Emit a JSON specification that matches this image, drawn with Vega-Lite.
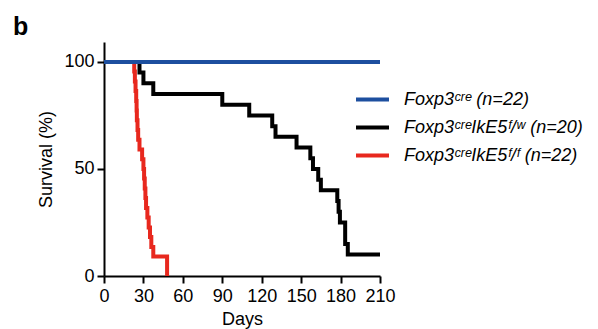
{
  "$schema": "https://vega.github.io/schema/vega-lite/v6.json",
  "autosize": "none",
  "width": 276,
  "height": 234,
  "padding": {"left": 104, "top": 42, "right": 218, "bottom": 53},
  "config": {"view": {"stroke": null}, "font": "Liberation Sans"},
  "title": {"text": "b", "anchor": "start", "frame": "group", "fontSize": 25, "fontWeight": "bold", "color": "#000", "dx": -91, "dy": 27, "offset": 4, "baseline": "bottom"},
  "data": {"values": [
    {"group": "Foxp3ᶜʳᵉIkE5ᶠ/ᶠ (n=22)", "day": 0, "survival": 100},
    {"group": "Foxp3ᶜʳᵉIkE5ᶠ/ᶠ (n=22)", "day": 23, "survival": 95.5},
    {"group": "Foxp3ᶜʳᵉIkE5ᶠ/ᶠ (n=22)", "day": 23.5, "survival": 90.9},
    {"group": "Foxp3ᶜʳᵉIkE5ᶠ/ᶠ (n=22)", "day": 24, "survival": 86.4},
    {"group": "Foxp3ᶜʳᵉIkE5ᶠ/ᶠ (n=22)", "day": 24.5, "survival": 81.8},
    {"group": "Foxp3ᶜʳᵉIkE5ᶠ/ᶠ (n=22)", "day": 24.8, "survival": 77.3},
    {"group": "Foxp3ᶜʳᵉIkE5ᶠ/ᶠ (n=22)", "day": 25, "survival": 72.7},
    {"group": "Foxp3ᶜʳᵉIkE5ᶠ/ᶠ (n=22)", "day": 25.5, "survival": 68.2},
    {"group": "Foxp3ᶜʳᵉIkE5ᶠ/ᶠ (n=22)", "day": 26, "survival": 63.6},
    {"group": "Foxp3ᶜʳᵉIkE5ᶠ/ᶠ (n=22)", "day": 27, "survival": 59.1},
    {"group": "Foxp3ᶜʳᵉIkE5ᶠ/ᶠ (n=22)", "day": 29, "survival": 54.5},
    {"group": "Foxp3ᶜʳᵉIkE5ᶠ/ᶠ (n=22)", "day": 30, "survival": 50},
    {"group": "Foxp3ᶜʳᵉIkE5ᶠ/ᶠ (n=22)", "day": 30.5, "survival": 45.5},
    {"group": "Foxp3ᶜʳᵉIkE5ᶠ/ᶠ (n=22)", "day": 31, "survival": 40.9},
    {"group": "Foxp3ᶜʳᵉIkE5ᶠ/ᶠ (n=22)", "day": 31.5, "survival": 36.4},
    {"group": "Foxp3ᶜʳᵉIkE5ᶠ/ᶠ (n=22)", "day": 32, "survival": 31.8},
    {"group": "Foxp3ᶜʳᵉIkE5ᶠ/ᶠ (n=22)", "day": 33, "survival": 27.3},
    {"group": "Foxp3ᶜʳᵉIkE5ᶠ/ᶠ (n=22)", "day": 34, "survival": 22.7},
    {"group": "Foxp3ᶜʳᵉIkE5ᶠ/ᶠ (n=22)", "day": 35, "survival": 18.2},
    {"group": "Foxp3ᶜʳᵉIkE5ᶠ/ᶠ (n=22)", "day": 36, "survival": 13.6},
    {"group": "Foxp3ᶜʳᵉIkE5ᶠ/ᶠ (n=22)", "day": 37.5, "survival": 9.1},
    {"group": "Foxp3ᶜʳᵉIkE5ᶠ/ᶠ (n=22)", "day": 48, "survival": 0},
    {"group": "Foxp3ᶜʳᵉIkE5ᶠ/ʷ (n=20)", "day": 0, "survival": 100},
    {"group": "Foxp3ᶜʳᵉIkE5ᶠ/ʷ (n=20)", "day": 27, "survival": 95},
    {"group": "Foxp3ᶜʳᵉIkE5ᶠ/ʷ (n=20)", "day": 30, "survival": 90},
    {"group": "Foxp3ᶜʳᵉIkE5ᶠ/ʷ (n=20)", "day": 37.5, "survival": 85},
    {"group": "Foxp3ᶜʳᵉIkE5ᶠ/ʷ (n=20)", "day": 90, "survival": 80},
    {"group": "Foxp3ᶜʳᵉIkE5ᶠ/ʷ (n=20)", "day": 110.5, "survival": 75},
    {"group": "Foxp3ᶜʳᵉIkE5ᶠ/ʷ (n=20)", "day": 128, "survival": 70},
    {"group": "Foxp3ᶜʳᵉIkE5ᶠ/ʷ (n=20)", "day": 130.5, "survival": 65},
    {"group": "Foxp3ᶜʳᵉIkE5ᶠ/ʷ (n=20)", "day": 146.5, "survival": 60},
    {"group": "Foxp3ᶜʳᵉIkE5ᶠ/ʷ (n=20)", "day": 157, "survival": 55},
    {"group": "Foxp3ᶜʳᵉIkE5ᶠ/ʷ (n=20)", "day": 159, "survival": 50},
    {"group": "Foxp3ᶜʳᵉIkE5ᶠ/ʷ (n=20)", "day": 163, "survival": 45},
    {"group": "Foxp3ᶜʳᵉIkE5ᶠ/ʷ (n=20)", "day": 165, "survival": 40},
    {"group": "Foxp3ᶜʳᵉIkE5ᶠ/ʷ (n=20)", "day": 177.5, "survival": 35},
    {"group": "Foxp3ᶜʳᵉIkE5ᶠ/ʷ (n=20)", "day": 178.5, "survival": 30},
    {"group": "Foxp3ᶜʳᵉIkE5ᶠ/ʷ (n=20)", "day": 179.5, "survival": 25},
    {"group": "Foxp3ᶜʳᵉIkE5ᶠ/ʷ (n=20)", "day": 183.5, "survival": 15},
    {"group": "Foxp3ᶜʳᵉIkE5ᶠ/ʷ (n=20)", "day": 185.5, "survival": 10},
    {"group": "Foxp3ᶜʳᵉIkE5ᶠ/ʷ (n=20)", "day": 210, "survival": 10},
    {"group": "Foxp3ᶜʳᵉ (n=22)", "day": 0, "survival": 100},
    {"group": "Foxp3ᶜʳᵉ (n=22)", "day": 210, "survival": 100}
  ]},
  "mark": {"type": "line", "interpolate": "step-after", "strokeWidth": 4, "strokeJoin": "miter", "strokeCap": "butt"},
  "encoding": {
    "x": {"field": "day", "type": "quantitative",
      "scale": {"domain": [0, 210], "nice": false, "zero": false},
      "axis": {"values": [0, 30, 60, 90, 120, 150, 180, 210], "title": "Days", "grid": false,
        "labelFontSize": 18, "titleFontSize": 18, "titleFontWeight": "normal", "labelColor": "#000", "titleColor": "#000",
        "domainColor": "#000", "domainWidth": 2, "tickColor": "#000", "tickWidth": 2, "tickSize": 7,
        "labelPadding": 4, "titlePadding": 5, "labelFlush": false, "labelOverlap": false}},
    "y": {"field": "survival", "type": "quantitative",
      "scale": {"domain": [0, 109.3], "nice": false},
      "axis": {"values": [0, 50, 100], "title": "Survival (%)", "grid": false,
        "labelFontSize": 18, "titleFontSize": 18, "titleFontWeight": "normal", "labelColor": "#000", "titleColor": "#000",
        "domainColor": "#000", "domainWidth": 2, "tickColor": "#000", "tickWidth": 2, "tickSize": 7,
        "labelPadding": 3, "titlePadding": 8}},
    "color": {"field": "group", "type": "nominal",
      "scale": {"domain": ["Foxp3ᶜʳᵉ (n=22)", "Foxp3ᶜʳᵉIkE5ᶠ/ʷ (n=20)", "Foxp3ᶜʳᵉIkE5ᶠ/ᶠ (n=22)"], "range": ["#1d4f9f", "#000000", "#e8281e"]},
      "legend": {"orient": "none", "legendX": 250, "legendY": 39, "title": null, "symbolType": "stroke", "symbolSize": 1089,
        "symbolStrokeWidth": 4, "labelFontSize": 18, "labelFontStyle": "italic", "labelColor": "#000", "rowPadding": -6.5, "labelOffset": 13, "labelLimit": 300}}
  }
}
